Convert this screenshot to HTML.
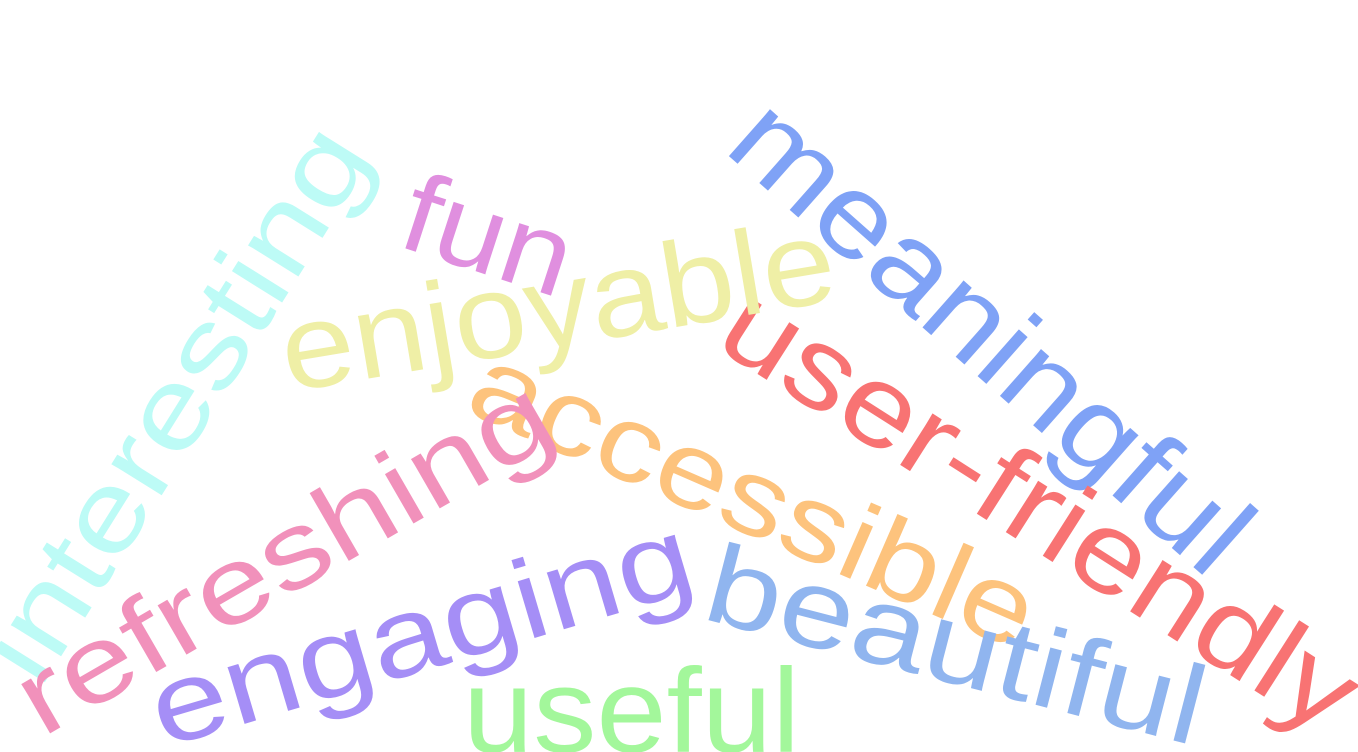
<!DOCTYPE html>
<html><head><meta charset="utf-8"><style>
html,body{margin:0;padding:0;background:#fff;width:1358px;height:752px;overflow:hidden}
svg text{font-family:"Liberation Sans",sans-serif}
</style></head><body>
<svg width="1358" height="752">
<g id="cloud"></g>
</svg>
<script>
const words=["meaningful","user-friendly","enjoyable","fun","interesting","accessible","refreshing","engaging","beautiful","useful"];
const colors=["#7fa2f6","#f87373","#efefa6","#e08fdf","#bdfbf6","#fdc37d","#f191bb","#a58ef6","#90b5ef","#a3f79b"];
const layout=[
[722,150,41.5,650,118],
[712,345,32.5,730,115],
[288,392,-9.5,560,120],
[395,245,18,172,112],
[40,690,-58,630,112],
[462,410,23.5,605,108],
[42,738,-30,600,108],
[163,748,-16.5,560,112],
[700,618,14.5,510,112],
[463,752,0,337,120]
];
const g=document.getElementById('cloud');
words.forEach((w,i)=>{
 const [x,y,a,len,fs]=layout[i];
 const t=document.createElementNS('http://www.w3.org/2000/svg','text');
 t.setAttribute('x',x);t.setAttribute('y',y);
 t.setAttribute('transform',`rotate(${a} ${x} ${y})`);
 t.setAttribute('font-size',fs);
 t.setAttribute('fill',colors[i]);
 t.setAttribute('textLength',len);
 t.setAttribute('lengthAdjust','spacingAndGlyphs');
 t.textContent=w;
 
 
 g.appendChild(t);
});
</script>
</body></html>
